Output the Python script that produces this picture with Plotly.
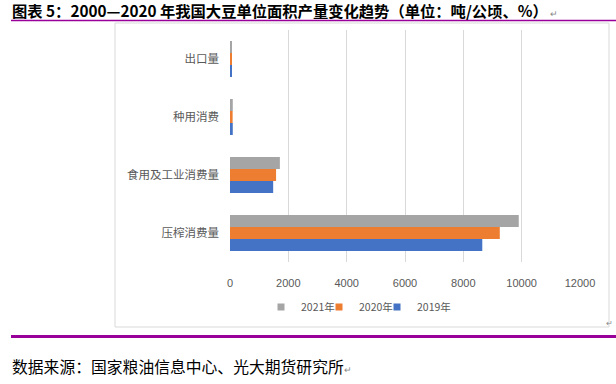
import plotly.graph_objects as go

categories = ["压榨消费量", "食用及工业消费量", "种用消费", "出口量"]
years = ["2019年", "2020年", "2021年"]
v2019 = [8650, 1480, 95, 40]
v2020 = [9250, 1580, 90, 35]
v2021 = [9900, 1710, 95, 35]
colors = ["#4472C4", "#ED7D31", "#A5A5A5"]
x_ticks = [0, 2000, 4000, 6000, 8000, 10000, 12000]
x_tick_text = ["0", "2000", "4000", "6000", "8000", "10000", "12000"]

W, H = 616, 384
L, R = 230, 580
T, B = 30, 262
pw, ph = R - L, B - T

def px(x):
    return (x - L) / pw

def py(y):
    return (B - y) / ph

font_cjk = "Noto Sans CJK SC, sans-serif"

fig = go.Figure()
for name, vals, c in zip(years, [v2019, v2020, v2021], colors):
    fig.add_trace(go.Bar(y=categories, x=vals, name=name, orientation="h", showlegend=False,
                         marker=dict(color=c, line=dict(width=0))))

# legend entries (one legend per year, ordered 2021, 2020, 2019 left to right)
legend_names = ["legend3", "legend2", "legend"]
symbol_x = [397, 339, 281]
for name, c, lg in zip(years, colors, legend_names):
    fig.add_trace(go.Scatter(x=[None], y=[None], mode="markers", name=name, legend=lg,
                             marker=dict(symbol="square", size=7, color=c)))

leg_common = dict(orientation="h", yanchor="middle", y=py(307), xanchor="left",
                  font=dict(size=10.5, color="#595959", family=font_cjk),
                  bgcolor="rgba(0,0,0,0)", borderwidth=0, itemwidth=30)
legends = {}
for lg, sx in zip(legend_names, symbol_x):
    legends[lg] = dict(leg_common, x=px(sx - 20))

fig.update_layout(
    width=W, height=H,
    margin=dict(l=L, r=W - R, t=T, b=H - B, autoexpand=False),
    paper_bgcolor="white", plot_bgcolor="white",
    barmode="group", bargap=0.38, bargroupgap=0,
    showlegend=True,
    xaxis=dict(range=[0, 12000], tickvals=x_ticks, ticktext=x_tick_text, showgrid=True,
               gridcolor="#D9D9D9", gridwidth=1, zeroline=False, showline=False, ticks="",
               automargin=False, ticklabelstandoff=13,
               tickfont=dict(size=11, color="#595959", family="Liberation Sans, sans-serif")),
    yaxis=dict(showgrid=False, zeroline=False, showline=False, ticks="",
               automargin=False, ticklabelstandoff=10,
               tickfont=dict(size=11.5, color="#595959", family=font_cjk)),
    font=dict(family=font_cjk),
    **legends,
)

shapes = [
    dict(type="rect", xref="paper", yref="paper", x0=px(115), x1=px(609), y0=py(327), y1=py(23),
         line=dict(color="#D9D9D9", width=1), fillcolor="rgba(0,0,0,0)", layer="below"),
    dict(type="line", xref="paper", yref="paper", x0=px(11), x1=px(616), y0=py(20.5), y1=py(20.5),
         line=dict(color="#990099", width=1.5)),
    dict(type="line", xref="paper", yref="paper", x0=px(11), x1=px(616), y0=py(336.5), y1=py(336.5),
         line=dict(color="#990099", width=3)),
]
fig.update_layout(shapes=shapes)

annotations = [
    dict(text="<b>图表 5：2000—2020 年我国大豆单位面积产量变化趋势（单位：吨/公顷、%）</b><span style='color:#888;font-size:9px'> ↵</span>",
         xref="paper", yref="paper", x=px(10), y=py(10), xanchor="left", yanchor="middle",
         showarrow=False, font=dict(size=15.3, color="#000000", family=font_cjk)),
    dict(text="数据来源：国家粮油信息中心、光大期货研究所<span style='color:#888;font-size:9px'>↵</span>",
         xref="paper", yref="paper", x=px(10), y=py(366), xanchor="left", yanchor="middle",
         showarrow=False, font=dict(size=15.8, color="#000000", family=font_cjk)),
    dict(text="↵", xref="paper", yref="paper", x=px(614), y=py(322), xanchor="right", yanchor="middle",
         borderpad=0, showarrow=False, font=dict(size=8, color="#888888", family=font_cjk)),
]
fig.update_layout(annotations=annotations)

fig.write_html("out.html", config={"displayModeBar": False},
               post_script="document.body.style.margin='0';")
